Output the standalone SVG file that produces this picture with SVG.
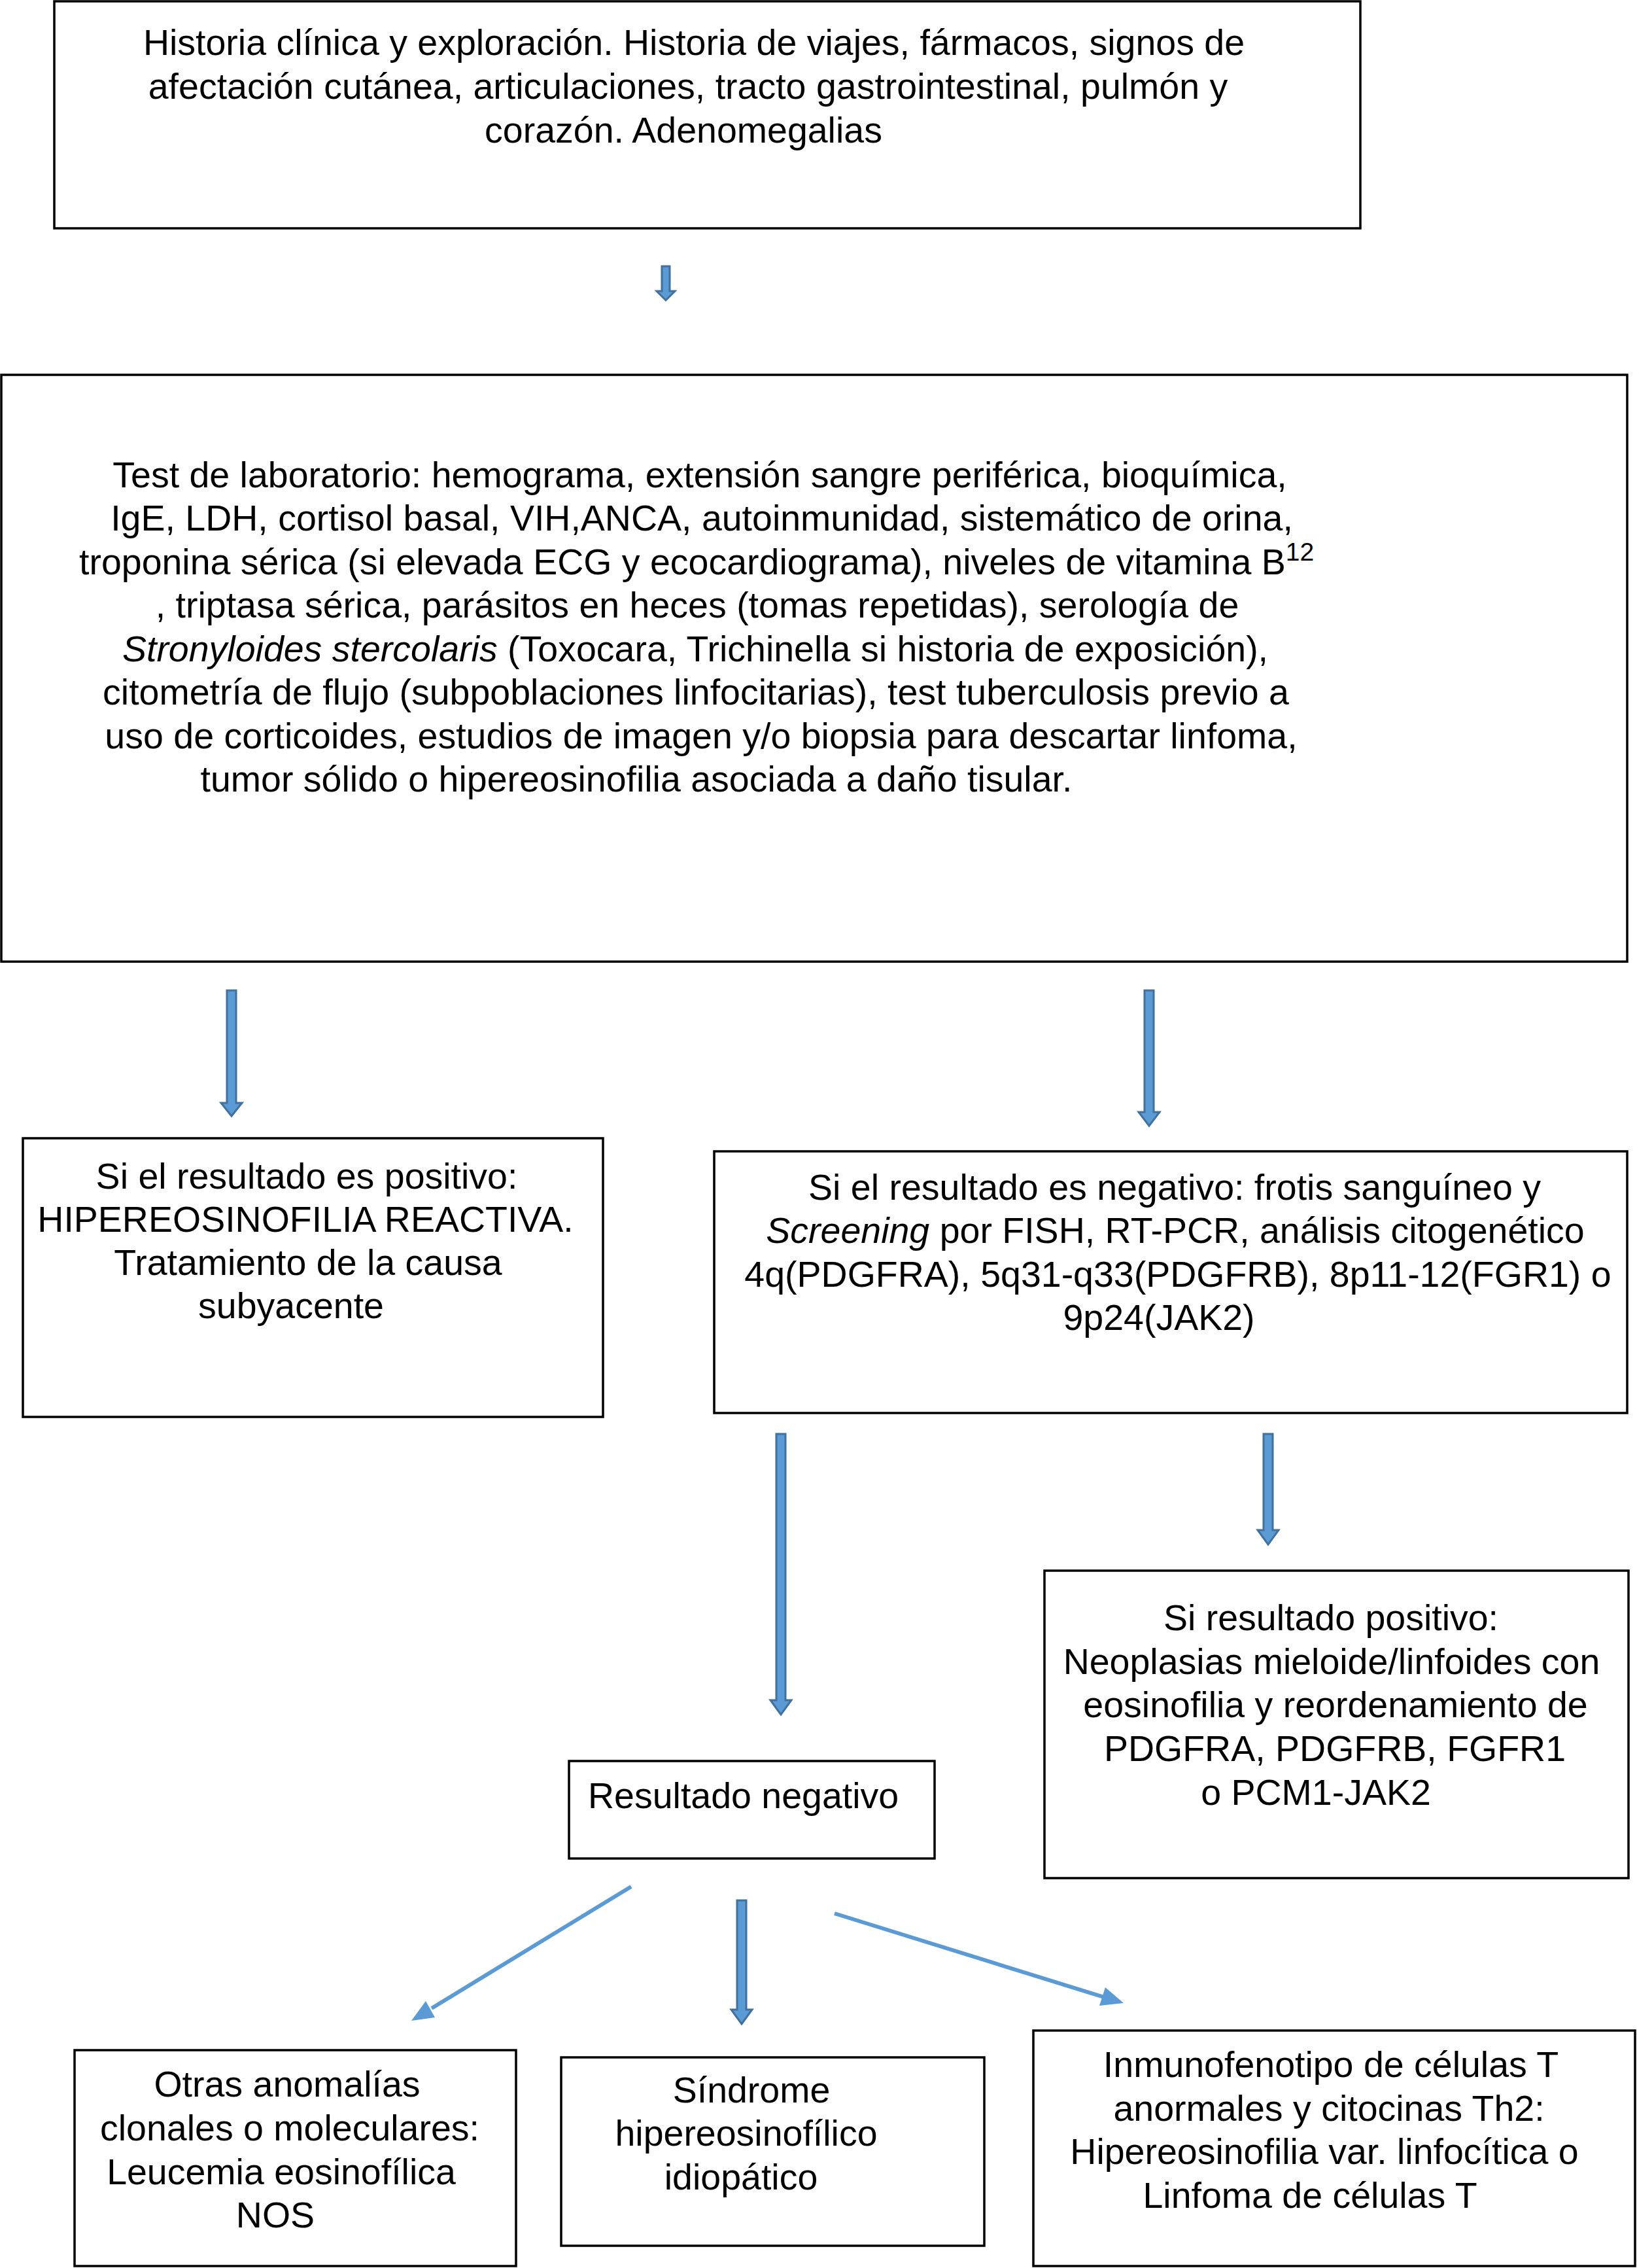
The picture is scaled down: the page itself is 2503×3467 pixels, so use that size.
<svg xmlns="http://www.w3.org/2000/svg" width="2503" height="3467" viewBox="0 0 2503 3467">
<style>
.box{fill:#fff;stroke:#000;stroke-width:3.5}
.t{font-family:"Liberation Sans",Arial,Helvetica,sans-serif;font-size:55.5px;fill:#000;text-anchor:middle}
.ts{font-family:"Liberation Sans",Arial,Helvetica,sans-serif;font-size:55.5px;fill:#000;text-anchor:start}
.it{font-style:italic}
.blk{fill:#5B9BD5;stroke:#41719C;stroke-width:3;stroke-linejoin:miter}
.dl{stroke:#5B9BD5;stroke-width:6;fill:none}
.dh{fill:#5B9BD5;stroke:none}
</style>
<rect width="2503" height="3467" fill="#fff"/>
<g id="n1">
<rect class="box" x="83" y="2" width="1997" height="347"/>
<text class="t" x="1061" y="84">Historia clínica y exploración. Historia de viajes, fármacos, signos de</text>
<text class="t" x="1052" y="151">afectación cutánea, articulaciones, tracto gastrointestinal, pulmón y</text>
<text class="t" x="1045" y="218">corazón. Adenomegalias</text>
</g>
<g id="n2">
<rect class="box" x="2" y="573" width="2486" height="897"/>
<text class="t" x="1070" y="745">Test de laboratorio: hemograma, extensión sangre periférica, bioquímica,</text>
<text class="t" x="1073" y="811">IgE, LDH, cortisol basal, VIH,ANCA, autoinmunidad, sistemático de orina,</text>
<text class="ts" x="121" y="878">troponina sérica (si elevada ECG y ecocardiograma), niveles de vitamina B<tspan font-size="39" dy="-21">12</tspan></text>
<text class="t" x="1066" y="944">, triptasa sérica, parásitos en heces (tomas repetidas), serología de</text>
<text class="t" x="1063" y="1011"><tspan class="it">Stronyloides stercolaris</tspan> (Toxocara, Trichinella si historia de exposición),</text>
<text class="t" x="1064" y="1077">citometría de flujo (subpoblaciones linfocitarias), test tuberculosis previo a</text>
<text class="t" x="1072" y="1144">uso de corticoides, estudios de imagen y/o biopsia para descartar linfoma,</text>
<text class="t" x="973" y="1210">tumor sólido o hipereosinofilia asociada a daño tisular.</text>
</g>
<g id="n3">
<rect class="box" x="35" y="1740" width="887" height="426"/>
<text class="t" x="469" y="1817">Si el resultado es positivo:</text>
<text class="t" x="467" y="1883">HIPEREOSINOFILIA REACTIVA.</text>
<text class="t" x="471" y="1949">Tratamiento de la causa</text>
<text class="t" x="445" y="2015">subyacente</text>
</g>
<g id="n4">
<rect class="box" x="1092" y="1760" width="1396" height="400"/>
<text class="t" x="1796" y="1834">Si el resultado es negativo: frotis sanguíneo y</text>
<text class="t" x="1797" y="1900"><tspan class="it">Screening</tspan> por FISH, RT-PCR, análisis citogenético</text>
<text class="t" x="1801" y="1967">4q(PDGFRA), 5q31-q33(PDGFRB), 8p11-12(FGR1) o</text>
<text class="t" x="1772" y="2033">9p24(JAK2)</text>
</g>
<g id="n5">
<rect class="box" x="1597" y="2401" width="893" height="470"/>
<text class="t" x="2035" y="2492">Si resultado positivo:</text>
<text class="t" x="2036" y="2559">Neoplasias mieloide/linfoides con</text>
<text class="t" x="2042" y="2625">eosinofilia y reordenamiento de</text>
<text class="t" x="2041" y="2692">PDGFRA, PDGFRB, FGFR1</text>
<text class="t" x="2012" y="2759">o PCM1-JAK2</text>
</g>
<g id="n6">
<rect class="box" x="870" y="2692" width="559" height="149"/>
<text class="ts" x="899" y="2764">Resultado negativo</text>
</g>
<g id="n7">
<rect class="box" x="114" y="3134" width="675" height="330"/>
<text class="t" x="439" y="3205">Otras anomalías</text>
<text class="t" x="443" y="3272">clonales o moleculares:</text>
<text class="t" x="430" y="3339">Leucemia eosinofílica</text>
<text class="t" x="421" y="3405">NOS</text>
</g>
<g id="n8">
<rect class="box" x="858" y="3145" width="647" height="288"/>
<text class="t" x="1149" y="3214">Síndrome</text>
<text class="t" x="1141" y="3280">hipereosinofílico</text>
<text class="t" x="1133" y="3347">idiopático</text>
</g>
<g id="n9">
<rect class="box" x="1580" y="3104" width="920" height="360"/>
<text class="t" x="2035" y="3175">Inmunofenotipo de células T</text>
<text class="t" x="2032" y="3242">anormales y citocinas Th2:</text>
<text class="t" x="2025" y="3308">Hipereosinofilia var. linfocítica o</text>
<text class="t" x="2003" y="3375">Linfoma de células T</text>
</g>
<g id="connectors">
<path class="blk" d="M1012,407 L1024,407 L1024,445 L1032,445 L1018,459 L1004,445 L1012,445 Z"/>
<path class="blk" d="M347,1514 L361,1514 L361,1686 L370,1686 L354,1706 L338,1686 L347,1686 Z"/>
<path class="blk" d="M1750,1514 L1764,1514 L1764,1700 L1773,1700 L1757,1721 L1741,1700 L1750,1700 Z"/>
<path class="blk" d="M1187,2192 L1201,2192 L1201,2599 L1210,2599 L1194,2621 L1178,2599 L1187,2599 Z"/>
<path class="blk" d="M1932,2192 L1946,2192 L1946,2339 L1955,2339 L1939,2361 L1923,2339 L1932,2339 Z"/>
<path class="blk" d="M1127,2905 L1141,2905 L1141,3072 L1150,3072 L1134,3094 L1118,3072 L1127,3072 Z"/>
<line class="dl" x1="965" y1="2884" x2="660" y2="3070"/>
<polygon class="dh" points="629,3089 665,3084 651,3059"/>
<line class="dl" x1="1276" y1="2925" x2="1688" y2="3053"/>
<polygon class="dh" points="1718,3062 1690,3038 1681,3066"/>
</g>
</svg>
